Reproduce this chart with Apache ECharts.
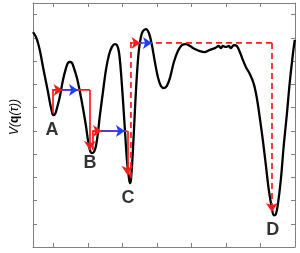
<!DOCTYPE html>
<html><head><meta charset="utf-8">
<script src="https://cdn.jsdelivr.net/npm/echarts@6/dist/echarts.min.js"></script>
<style>html,body{margin:0;padding:0;background:#fff}#c{width:300px;height:253px}</style>
</head><body><div id="c"></div>
<script>
// Potential curve V(q(tau))
var curveX = [0,0.087,0.145,0.203,0.29,0.377,0.435,0.493,0.551,0.58,0.638,0.696,0.783,0.87,0.957,1.014,1.072,1.13,1.188,1.275,1.362,1.449,1.536,1.594,1.652,1.71,1.768,1.826,1.884,1.942,2.029,2.116,2.203,2.29,2.377,2.435,2.493,2.551,2.609,2.667,2.725,2.783,2.812,2.841,2.899,2.957,3.014,3.072,3.13,3.188,3.275,3.362,3.449,3.536,3.623,3.71,3.797,3.884,3.971,4.087,4.203,4.319,4.435,4.551,4.696,4.841,4.986,5.13,5.275,5.391,5.449,5.507,5.594,5.681,5.739,5.826,5.913,6.0,6.087,6.174,6.29,6.406,6.493,6.58,6.667,6.754,6.841,6.928,6.986,7.043,7.101,7.188,7.275,7.362,7.449,7.536,7.594];
var curveY = [9.25,9.04,8.78,8.43,7.75,7.10,6.67,6.20,5.81,5.68,5.72,5.98,6.50,7.19,7.70,7.92,7.96,7.92,7.70,7.27,6.67,5.98,5.21,4.60,4.17,4.04,4.09,4.35,4.91,5.68,6.67,7.62,8.26,8.61,8.73,8.69,8.39,7.53,6.33,5.03,3.74,2.97,2.75,2.88,4.17,5.90,7.40,8.48,9.04,9.29,9.38,9.21,8.69,7.96,7.31,6.93,6.84,6.93,7.27,7.96,8.43,8.69,8.73,8.65,8.52,8.43,8.39,8.48,8.56,8.65,8.56,8.65,8.61,8.65,8.56,8.69,8.65,8.39,8.05,7.75,7.44,7.01,6.41,5.55,4.60,3.53,2.45,1.68,1.36,1.40,1.81,2.88,4.39,5.68,7.10,8.26,8.91];

// Transition paths (red), their direction marks and the blue jumps
var pathAB = [[0.58,5.77],[0.58,6.76],[1.65,6.76],[1.65,4.17]];
var pathBC = [[1.739,4.17],[1.739,4.99],[2.74,4.99],[2.74,3.10]];
var pathCD = [[2.841,2.97],[2.841,8.78],[6.928,8.78],[6.928,1.51]];
var redMarks = [[[0.58,6.76],[0.86,6.76]],[[1.739,4.99],[2.0,4.99]],[[2.841,8.78],[3.12,8.78]]];
var blueJumps = [[[0.84,6.76],[1.304,6.76]],[[1.98,4.99],[2.667,4.99]],[[3.10,8.78],[3.45,8.78]]];

// Minimum labels
var labelNames = ['A','B','C','D'];
var labelX = [0.551,1.652,2.754,6.957];
var labelY = [5.03,3.61,2.11,0.73];

var xTicks = [0.6,1.6,2.6,3.6,4.6,5.6,6.6];

var chart = echarts.init(document.getElementById('c'), null, {renderer:'canvas'});
var axisGray = '#808080';
function xAx(pos){return {type:'value',min:0,max:7.6,position:pos,
  axisLine:{show:true,onZero:false,lineStyle:{color:axisGray,width:1}},
  axisTick:{show:true,inside:true,length:4,customValues:xTicks,lineStyle:{color:axisGray}},
  axisLabel:{show:false},splitLine:{show:false}};}
function yAx(pos){return {type:'value',min:0,max:10.5,interval:1,position:pos,
  axisLine:{show:true,onZero:false,lineStyle:{color:axisGray,width:1}},
  axisTick:{show:true,inside:true,length:4,lineStyle:{color:axisGray}},
  axisLabel:{show:false},splitLine:{show:false}};}

function lineSeries(segs, color, dashed, arrow){
  return {type:'lines',coordinateSystem:'cartesian2d',xAxisIndex:0,yAxisIndex:0,
    polyline:!arrow,
    symbol:arrow?['none','arrow']:['none','none'],symbolSize:[7,9],z:5,
    lineStyle:{color:color,width:1.7,type:dashed?[6,4]:'solid',opacity:1},
    data:segs.map(function(c){return {coords:c};})};
}
function bodyOf(p){return p.slice(0,p.length-1);}
function tailOf(p){return p.slice(p.length-2);}

var curve = curveX.map(function(x,i){return [x,curveY[i]];});
var labels = labelNames.map(function(n,i){return {name:n,value:[labelX[i],labelY[i]]};});

chart.setOption({
  animation:false,
  grid:{left:33,right:5,top:3,bottom:6,containLabel:false},
  xAxis:[xAx('bottom'),xAx('top')],
  yAxis:[yAx('left'),yAx('right')],
  series:[
    {type:'line',data:curve,smooth:0.35,showSymbol:false,z:3,
      lineStyle:{color:'#000',width:2.3}},
    lineSeries([bodyOf(pathAB),bodyOf(pathBC)],'#ff1a1a',false,false),
    lineSeries([tailOf(pathAB),tailOf(pathBC)],'#ff1a1a',false,true),
    lineSeries([bodyOf(pathCD)],'#ff1a1a',true,false),
    lineSeries([tailOf(pathCD)],'#ff1a1a',true,true),
    lineSeries(redMarks,'#ff1a1a',false,true),
    lineSeries(blueJumps,'#1f3fff',false,true),
    {type:'scatter',data:labels,symbolSize:0,z:6,
      label:{show:true,position:'inside',formatter:'{b}',color:'#000',textBorderWidth:0,
        fontFamily:'Liberation Sans, Arial, sans-serif',fontWeight:'bold',fontSize:18}}
  ],
  graphic:[{type:'text',x:15,y:117,rotation:Math.PI/2,
    style:{text:'V({q|q}(τ))',rich:{q:{fontWeight:'bold',fontSize:12,fontFamily:'Liberation Sans, Arial, sans-serif',fill:'#000'}},
      fontSize:12,fontFamily:'Liberation Sans, Arial, sans-serif',fontStyle:'italic',fill:'#000',align:'center',verticalAlign:'middle'}}]
});
</script></body></html>
